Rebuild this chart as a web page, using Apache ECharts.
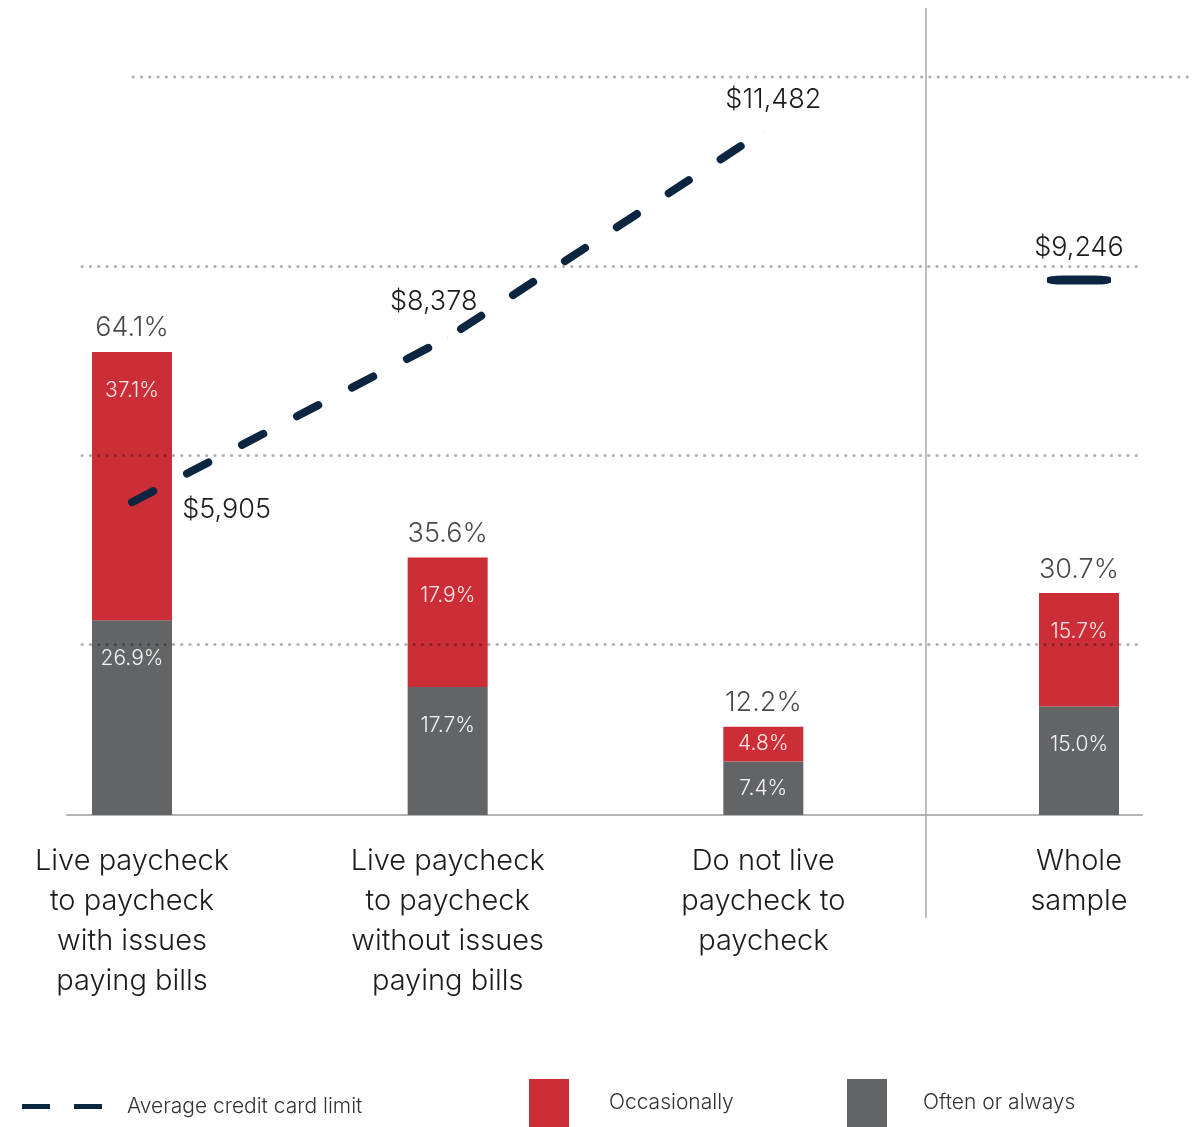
<!DOCTYPE html>
<html>
<head>
<meta charset="utf-8">
<script src="https://cdn.jsdelivr.net/npm/echarts@6/dist/echarts.min.js"></script>
<style>
  html, body { margin: 0; padding: 0; background: #ffffff; }
  #chart { width: 1202px; height: 1127px; }
</style>
</head>
<body>
<div id="chart"></div>
<script>
  // categories / groups
  const categories = [
    'Live paycheck\nto paycheck\nwith issues\npaying bills',
    'Live paycheck\nto paycheck\nwithout issues\npaying bills',
    'Do not live\npaycheck to\npaycheck',
    'Whole\nsample'
  ]
  // share of people who have trouble (percent)
  const oftenOrAlways = [26.9, 17.7, 7.4, 15.0]
  const occasionally = [37.1, 17.9, 4.8, 15.7]
  const totals = [64.1, 35.6, 12.2, 30.7]
  // average credit card limit ($); the last one is the whole sample
  const creditLimit = [5905, 8378, 11482, 9246]

  const FONT = 'Inter'
  const RED = '#CB2E37'
  const GRAY = '#636466'
  const NAVY = '#0C2641'
  const INK = '#1c1c1c'
  const DOT = 'rgba(0,0,0,0.3)'

  const myChart = echarts.init(document.getElementById('chart'))

  // labels inside the bar segments: small segments get centred text
  const segData = arr => arr.map(v => ({
    value: v,
    label: v < 10 ? { position: 'inside' } : { position: 'insideTop', distance: 28 }
  }))

  const money = v => '$' + v.toLocaleString('en-US')

  // label placement for the three dashed-line points
  const lineLabels = [
    { position: 'right', distance: 50, offset: [0, 8] },
    { position: 'top', distance: 22, offset: [-14, 0] },
    { position: 'top', distance: 18, offset: [10, 0] }
  ]
  const lineData = creditLimit.map((v, i) => {
    if (i === creditLimit.length - 1) return '-'
    return { value: v, label: lineLabels[i] }
  })
  const wholeData = creditLimit.map((v, i) => i === creditLimit.length - 1 ? v : '-')

  const legendText = pad => ({
    fontSize: 21, color: '#333333', fontWeight: 300, padding: pad, fontFamily: FONT
  })

  const valueLabel = {
    fontSize: 27,
    fontWeight: 300,
    color: INK,
    fontFamily: FONT
  }

  const option = {
    backgroundColor: '#ffffff',
    textStyle: { fontFamily: FONT },
    animation: false,
    grid: [
      // bars + line
      { left: 132, right: 123, top: 77, bottom: 312, outerBoundsMode: 'none' },
      // dotted guide lines
      { left: 82, right: 62, top: 77, bottom: 312, outerBoundsMode: 'none' },
      // baseline
      { left: 67, right: 60, top: 77, bottom: 312, outerBoundsMode: 'none' }
    ],
    xAxis: [
      {
        gridIndex: 0,
        type: 'category',
        data: categories,
        boundaryGap: false,
        axisLine: { show: false },
        axisTick: { show: false },
        axisLabel: {
          interval: 0,
          margin: 26,
          fontSize: 29,
          lineHeight: 40,
          fontWeight: 300,
          color: INK,
          fontFamily: FONT
        }
      },
      { gridIndex: 1, type: 'value', show: false },
      {
        gridIndex: 2, type: 'value',
        axisLine: { show: true, lineStyle: { color: '#b4b4b4', width: 2 } },
        axisTick: { show: false },
        axisLabel: { show: false },
        splitLine: { show: false }
      }
    ],
    yAxis: [
      // percent
      { gridIndex: 0, type: 'value', min: 0, max: 102, show: false },
      // credit limit
      { gridIndex: 0, type: 'value', min: 1200, max: 12300, show: false },
      // guide lines (counted from the top)
      {
        gridIndex: 1, type: 'value', inverse: true, min: 0, max: 3.9, interval: 1,
        z: 3,
        axisLine: { show: false },
        axisTick: { show: false },
        axisLabel: { show: false },
        splitLine: {
          show: true,
          showMinLine: false,
          showMaxLine: false,
          lineStyle: { color: DOT, width: 3, type: [0.3, 8], cap: 'round' }
        }
      },
      { gridIndex: 2, type: 'value', show: false }
    ],
    legend: [
      {
        data: ['Average credit card limit'],
        left: 22, top: 1096, padding: 0,
        itemWidth: 80, itemHeight: 5,
        icon: 'path://M0,0H28V5H0Z M52,0H80V5H52Z',
        itemStyle: { color: NAVY },
        textStyle: legendText([4, 0, 0, 20]),
        selectedMode: false
      },
      {
        data: ['Occasionally'],
        left: 529, top: 1079, padding: 0,
        itemWidth: 40, itemHeight: 48,
        icon: 'rect',
        textStyle: legendText([18, 0, 0, 35]),
        selectedMode: false
      },
      {
        data: ['Often or always'],
        left: 847, top: 1079, padding: 0,
        itemWidth: 40, itemHeight: 48,
        icon: 'rect',
        textStyle: legendText([18, 0, 0, 31]),
        selectedMode: false
      }
    ],
    graphic: [
      // separator before "Whole sample"
      {
        type: 'line', silent: true, z: 1,
        shape: { x1: 926, y1: 8, x2: 926, y2: 918 },
        style: { stroke: '#a8a8a8', lineWidth: 1.5 }
      },
      // top guide line
      {
        type: 'line', silent: true, z: 1,
        shape: { x1: 133, y1: 77, x2: 1190, y2: 77 },
        style: { stroke: DOT, lineWidth: 3, lineDash: [0.3, 8], lineCap: 'round' }
      }
    ],
    series: [
      {
        name: 'Often or always',
        type: 'bar',
        stack: 'share',
        xAxisIndex: 0, yAxisIndex: 0,
        barWidth: 80,
        data: segData(oftenOrAlways),
        itemStyle: { color: GRAY },
        label: {
          show: true,
          formatter: p => p.value.toFixed(1) + '%',
          fontSize: 21,
          fontWeight: 300,
          color: 'rgba(255,255,255,0.92)',
          fontFamily: FONT
        },
        z: 2
      },
      {
        name: 'Occasionally',
        type: 'bar',
        stack: 'share',
        xAxisIndex: 0, yAxisIndex: 0,
        barWidth: 80,
        data: segData(occasionally),
        itemStyle: { color: RED },
        label: {
          show: true,
          formatter: p => p.value.toFixed(1) + '%',
          fontSize: 21,
          fontWeight: 300,
          color: 'rgba(255,240,240,0.95)',
          fontFamily: FONT
        },
        z: 2
      },
      {
        name: 'Total',
        type: 'scatter',
        xAxisIndex: 0, yAxisIndex: 0,
        data: totals,
        symbolSize: 0,
        silent: true,
        label: Object.assign({
          show: true,
          position: 'top',
          distance: 10,
          formatter: p => p.value.toFixed(1) + '%'
        }, valueLabel),
        z: 4
      },
      {
        name: 'Average credit card limit',
        type: 'line',
        xAxisIndex: 0, yAxisIndex: 1,
        data: lineData,
        showSymbol: true,
        symbol: 'circle',
        symbolSize: 0.5,
        lineStyle: { color: NAVY, width: 8, type: [24, 38], cap: 'round', join: 'round' },
        itemStyle: { color: NAVY },
        label: Object.assign({
          show: true,
          position: 'top',
          distance: 18,
          formatter: p => money(p.value)
        }, valueLabel),
        z: 5
      },
      {
        name: 'Whole sample limit',
        type: 'scatter',
        xAxisIndex: 0, yAxisIndex: 1,
        data: wholeData,
        symbol: 'roundRect',
        symbolSize: [64, 9],
        itemStyle: { color: NAVY, opacity: 1 },
        label: Object.assign({
          show: true,
          position: 'top',
          distance: 14,
          formatter: p => money(p.value)
        }, valueLabel),
        z: 5
      }
    ]
  }

  myChart.setOption(option)
</script>
</body>
</html>
